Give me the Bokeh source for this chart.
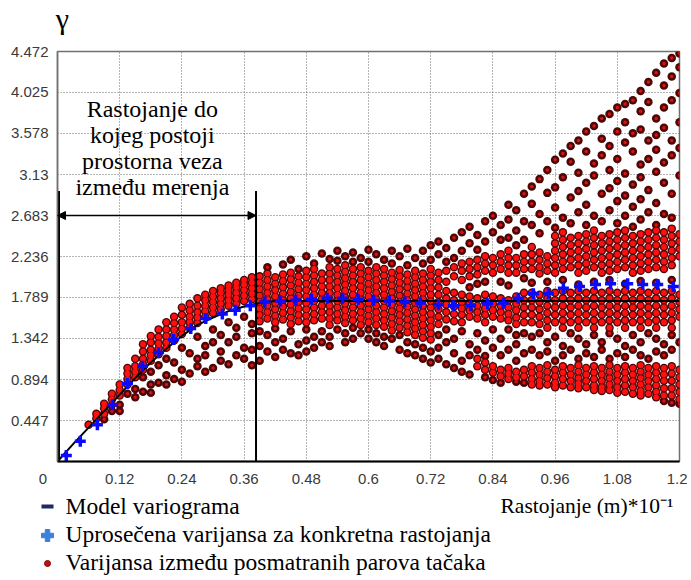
from bokeh.plotting import figure
from bokeh.embed import file_html
from bokeh.resources import INLINE
from bokeh.layouts import column
from bokeh.models import Range1d, FixedTicker, Label, Arrow, NormalHead

# ---------------- axis ticks ----------------
x_ticks = [0.12, 0.24, 0.36, 0.48, 0.6, 0.72, 0.84, 0.96, 1.08, 1.2]
x_tick_labels = ["0.12", "0.24", "0.36", "0.48", "0.6", "0.72", "0.84", "0.96", "1.08", "1.2"]
y_ticks = [0.447, 0.894, 1.342, 1.789, 2.236, 2.683, 3.13, 3.578, 4.025, 4.472]
y_tick_labels = ["0.447", "0.894", "1.342", "1.789", "2.236", "2.683", "3.13", "3.578", "4.025", "4.472"]
origin_label = "0"

# ---------------- variogram model ----------------
model_x = [0, 0.03, 0.06, 0.09, 0.12, 0.15, 0.18, 0.21, 0.24, 0.27, 0.30, 0.33, 0.36, 0.39, 0.42, 1.2]
model_y = [0, 0.19, 0.37, 0.55, 0.73, 0.91, 1.08, 1.23, 1.37, 1.49, 1.57, 1.64, 1.69, 1.73, 1.75, 1.75]

# ---------------- averaged variance (blue crosses) ----------------
avg_x = [0.017, 0.044, 0.077, 0.106, 0.135, 0.164, 0.195, 0.224, 0.257, 0.286,
         0.318, 0.343, 0.372, 0.40, 0.43, 0.46, 0.49, 0.52, 0.55, 0.58,
         0.61, 0.64, 0.67, 0.70, 0.735, 0.764, 0.797, 0.830, 0.860, 0.889,
         0.918, 0.947, 0.976, 1.007, 1.038, 1.067, 1.100, 1.129, 1.158, 1.188]
avg_y = [0.065, 0.22, 0.40, 0.62, 0.85, 1.04, 1.19, 1.33, 1.45, 1.56,
         1.61, 1.65, 1.70, 1.74, 1.75, 1.76, 1.77, 1.78, 1.78, 1.77,
         1.76, 1.75, 1.74, 1.73, 1.71, 1.70, 1.70, 1.72, 1.73, 1.78,
         1.83, 1.83, 1.89, 1.91, 1.93, 1.94, 1.94, 1.93, 1.93, 1.91]

# ---------------- variogram cloud, read column by column ----------------
cloud_x_a = [0.060, 0.075, 0.090, 0.105, 0.120, 0.135, 0.150, 0.165, 0.180, 0.195, 0.210,
             0.225, 0.240, 0.255, 0.270, 0.285, 0.300, 0.315, 0.330, 0.345, 0.360, 0.375]
cloud_dense_a = [
    [0.40], [0.47, 0.52], [0.52, 0.58, 0.63], [0.62, 0.68, 0.74], [0.72, 0.78, 0.84],
    [0.84, 0.90, 0.96, 1.02], [0.92, 0.98, 1.04, 1.12], [1.00, 1.06, 1.12, 1.20, 1.28],
    [1.10, 1.16, 1.22, 1.30, 1.37], [1.17, 1.23, 1.29, 1.36, 1.44], [1.24, 1.30, 1.37, 1.44, 1.52],
    [1.32, 1.38, 1.44, 1.51, 1.58], [1.39, 1.45, 1.52, 1.60, 1.68], [1.46, 1.52, 1.58, 1.65, 1.72],
    [1.51, 1.57, 1.63, 1.70, 1.78], [1.58, 1.64, 1.70, 1.76, 1.82], [1.62, 1.68, 1.74, 1.80, 1.86],
    [1.66, 1.72, 1.78, 1.84, 1.89], [1.70, 1.76, 1.82, 1.87, 1.92], [1.72, 1.78, 1.84, 1.90, 1.95],
    [1.75, 1.81, 1.87, 1.93, 1.98], [1.77, 1.83, 1.89, 1.95, 2.01]]
cloud_sparse_a = [
    [], [], [0.46], [0.55], [0.62, 0.55],
    [0.74], [0.79, 0.70], [0.92, 0.76],
    [0.98, 0.84, 0.75], [1.05, 0.86], [1.12, 0.94, 0.84],
    [1.08, 0.90], [1.24, 1.00, 0.87], [1.18, 0.96],
    [1.36, 1.12, 1.04], [1.26, 1.16, 0.98], [1.44, 1.30, 1.02],
    [1.38, 1.20, 1.10], [1.52, 1.30, 1.06], [1.46, 1.36, 1.16],
    [1.58, 1.24, 1.12], [1.50, 1.40, 1.22, 1.05]]

cloud_x_b = [0.390, 0.405, 0.420, 0.435, 0.450, 0.465, 0.480, 0.495, 0.510, 0.525, 0.540, 0.555,
             0.570, 0.585, 0.600, 0.615, 0.630, 0.645, 0.660, 0.675, 0.690, 0.705, 0.720]
cloud_dense_b = [
    [2.02, 1.95, 1.88, 1.81, 1.74, 1.67, 1.60, 1.53],
    [2.05, 1.98, 1.91, 1.84, 1.77, 1.70, 1.63, 1.56],
    [2.01, 1.94, 1.87, 1.80, 1.73, 1.66, 1.59, 1.52],
    [2.04, 1.97, 1.90, 1.83, 1.76, 1.69, 1.62, 1.55],
    [2.06, 1.99, 1.92, 1.85, 1.78, 1.71, 1.64, 1.57, 1.50],
    [2.02, 1.95, 1.88, 1.81, 1.74, 1.67, 1.60, 1.53],
    [2.08, 2.01, 1.94, 1.87, 1.80, 1.73, 1.66, 1.59, 1.52],
    [2.10, 2.03, 1.96, 1.89, 1.82, 1.75, 1.68, 1.61, 1.54],
    [2.05, 1.98, 1.91, 1.84, 1.77, 1.70, 1.63, 1.56],
    [2.12, 2.05, 1.98, 1.91, 1.84, 1.77, 1.70, 1.63, 1.56, 1.49],
    [2.10, 2.03, 1.96, 1.89, 1.82, 1.75, 1.68, 1.61, 1.54],
    [2.14, 2.07, 2.00, 1.93, 1.86, 1.79, 1.72, 1.65, 1.58, 1.51],
    [2.10, 2.03, 1.96, 1.89, 1.82, 1.75, 1.68, 1.61, 1.54],
    [2.12, 2.05, 1.98, 1.91, 1.84, 1.77, 1.70, 1.63, 1.56, 1.49],
    [2.08, 2.01, 1.94, 1.87, 1.80, 1.73, 1.66, 1.59, 1.52],
    [2.12, 2.05, 1.98, 1.91, 1.84, 1.77, 1.70, 1.63, 1.56, 1.49],
    [2.10, 2.03, 1.96, 1.89, 1.82, 1.75, 1.68, 1.61, 1.54, 1.47],
    [2.06, 1.99, 1.92, 1.85, 1.78, 1.71, 1.64, 1.57, 1.50, 1.43],
    [2.09, 2.02, 1.95, 1.88, 1.81, 1.74, 1.67, 1.60, 1.53, 1.46],
    [2.04, 1.97, 1.90, 1.83, 1.76, 1.69, 1.62, 1.55, 1.48, 1.41],
    [2.08, 2.01, 1.94, 1.87, 1.80, 1.73, 1.66, 1.59, 1.52, 1.45, 1.38],
    [2.05, 1.98, 1.91, 1.84, 1.77, 1.70, 1.63, 1.56, 1.49, 1.42, 1.35],
    [2.10, 2.03, 1.96, 1.89, 1.82, 1.75, 1.68, 1.61, 1.54, 1.47, 1.40, 1.33]]
cloud_sparse_b = [
    [1.42, 1.26, 1.10], [2.12, 1.38, 1.20], [1.45, 1.30, 1.14], [2.15, 1.34, 1.22],
    [2.20, 1.42, 1.18], [2.10, 1.28, 1.16], [2.24, 1.44, 1.32, 1.20], [2.16, 1.36, 1.24],
    [2.27, 1.42, 1.30], [2.21, 1.36, 1.26], [2.30, 2.19, 1.44], [2.24, 1.40, 1.30],
    [2.28, 2.18, 1.46, 1.34], [2.22, 1.40], [2.31, 2.18, 1.44, 1.34], [2.26, 1.40, 1.30],
    [2.20, 1.36, 1.26], [2.30, 2.16, 1.34], [2.24, 1.38, 1.22], [2.32, 2.14, 1.30, 1.18],
    [2.22, 1.28, 1.16], [2.30, 2.16, 1.24, 1.12], [2.36, 2.20, 1.20, 1.08]]

cloud_x_c = [0.735, 0.750, 0.765, 0.780, 0.795, 0.810, 0.825, 0.840, 0.855, 0.870, 0.885, 0.900]
cloud_dense_c = [
    [2.06, 1.98, 1.90, 1.82, 1.74, 1.66, 1.58, 1.50],
    [2.08, 1.96, 1.86, 1.78, 1.71, 1.63, 1.55],
    [2.12, 2.02, 1.84, 1.76, 1.69, 1.61, 1.53],
    [2.16, 2.08, 1.98, 1.82, 1.74, 1.67, 1.60, 1.52],
    [2.18, 2.10, 2.02, 1.80, 1.72, 1.65, 1.58],
    [2.20, 2.12, 2.04, 1.78, 1.70, 1.63, 1.56, 1.12, 1.04],
    [2.24, 2.16, 2.08, 1.82, 1.74, 1.67, 1.60, 1.52, 1.08, 1.00],
    [2.22, 2.14, 2.06, 1.80, 1.72, 1.65, 1.58, 1.04, 0.97],
    [2.26, 2.18, 2.10, 1.78, 1.70, 1.63, 1.56, 1.00, 0.93],
    [2.30, 2.22, 2.14, 2.06, 1.76, 1.68, 1.61, 1.54, 1.02, 0.96, 0.90],
    [2.22, 2.14, 2.06, 1.80, 1.72, 1.65, 1.57, 1.50, 0.98, 0.92],
    [2.26, 2.18, 2.10, 1.84, 1.76, 1.68, 1.60, 1.52, 1.00, 0.93]]
cloud_sparse_c = [
    [2.40, 2.26, 1.38, 1.24, 1.12], [2.33, 2.18, 1.44, 1.30, 1.06],
    [2.44, 2.22, 1.34, 1.18, 1.02], [2.50, 2.30, 1.42, 1.10, 0.98],
    [2.56, 2.38, 1.90, 1.28, 1.16, 0.95], [2.47, 2.31, 1.94, 1.40, 1.22],
    [2.62, 2.40, 1.96, 1.32, 1.15, 0.92], [2.68, 2.50, 1.44, 1.24, 0.89],
    [2.58, 2.42, 1.96, 1.34, 1.16, 0.86], [2.80, 2.64, 2.44, 1.92, 1.44, 1.22],
    [2.74, 2.52, 2.36, 1.38, 1.28, 1.10, 0.87], [2.92, 2.62, 2.42, 2.00, 1.40, 1.18, 0.86]]

cloud_x_d = [0.915, 0.930, 0.945, 0.960, 0.975, 0.990, 1.005, 1.020, 1.035, 1.050,
             1.065, 1.080, 1.095, 1.110, 1.125, 1.140, 1.155, 1.170, 1.185, 1.200]
cloud_dense_d = [
    [2.34, 2.26, 2.18, 2.10, 1.84, 1.76, 1.68, 1.60, 1.52, 1.04, 0.97, 0.90, 0.84],
    [2.28, 2.20, 2.12, 2.05, 1.82, 1.74, 1.66, 1.58, 1.50, 1.02, 0.95, 0.88, 0.83],
    [2.24, 2.16, 2.08, 1.86, 1.78, 1.70, 1.62, 1.54, 1.46, 1.05, 0.98, 0.91, 0.84],
    [2.46, 2.38, 2.30, 2.22, 2.14, 2.06, 1.84, 1.76, 1.68, 1.60, 1.52, 1.00, 0.93, 0.86, 0.81],
    [2.50, 2.42, 2.34, 2.26, 2.18, 2.10, 1.86, 1.78, 1.70, 1.62, 1.54, 1.46, 1.04, 0.97, 0.90, 0.83],
    [2.44, 2.36, 2.28, 2.20, 2.12, 1.84, 1.76, 1.68, 1.60, 1.52, 1.02, 0.95, 0.88, 0.81],
    [2.46, 2.38, 2.30, 2.22, 2.14, 2.06, 1.86, 1.78, 1.70, 1.62, 1.54, 1.46, 1.05, 0.98, 0.91, 0.85, 0.80],
    [2.48, 2.40, 2.32, 2.24, 2.16, 2.08, 1.84, 1.76, 1.68, 1.60, 1.52, 1.02, 0.95, 0.88, 0.81],
    [2.52, 2.44, 2.36, 2.28, 2.20, 2.12, 1.86, 1.78, 1.70, 1.62, 1.54, 1.46, 1.04, 0.97, 0.90, 0.83, 0.78],
    [2.46, 2.38, 2.30, 2.22, 2.14, 2.06, 1.84, 1.76, 1.68, 1.60, 1.52, 1.02, 0.95, 0.88, 0.81, 0.77],
    [2.48, 2.40, 2.32, 2.24, 2.16, 2.08, 1.86, 1.78, 1.70, 1.62, 1.54, 1.46, 1.05, 0.98, 0.91, 0.84, 0.78],
    [2.50, 2.42, 2.34, 2.26, 2.18, 2.10, 1.84, 1.76, 1.68, 1.60, 1.52, 1.02, 0.95, 0.88, 0.81, 0.75],
    [2.52, 2.44, 2.36, 2.28, 2.20, 2.12, 1.86, 1.78, 1.70, 1.62, 1.54, 1.46, 1.04, 0.97, 0.90, 0.83, 0.76],
    [2.46, 2.38, 2.30, 2.22, 2.14, 2.06, 1.84, 1.76, 1.68, 1.60, 1.52, 1.02, 0.95, 0.88, 0.81, 0.74],
    [2.48, 2.40, 2.32, 2.24, 2.16, 2.08, 1.86, 1.78, 1.70, 1.62, 1.54, 1.46, 1.05, 0.98, 0.91, 0.84, 0.77, 0.72],
    [2.50, 2.42, 2.34, 2.26, 2.18, 2.10, 1.84, 1.76, 1.68, 1.60, 1.52, 1.02, 0.95, 0.88, 0.81, 0.74],
    [2.52, 2.44, 2.36, 2.28, 2.20, 2.12, 1.86, 1.78, 1.70, 1.62, 1.54, 1.46, 1.04, 0.97, 0.90, 0.83, 0.76, 0.70],
    [2.50, 2.42, 2.34, 2.26, 2.18, 2.10, 1.84, 1.76, 1.68, 1.60, 1.52, 1.02, 0.95, 0.88, 0.80, 0.72],
    [2.54, 2.46, 2.38, 2.30, 2.22, 2.14, 1.86, 1.78, 1.70, 1.62, 1.54, 1.46, 1.04, 0.96, 0.88, 0.80, 0.72],
    [2.48, 2.40, 2.32, 2.24, 1.82, 1.74, 1.66, 1.58, 1.00, 0.92, 0.84, 0.76, 0.68]]
cloud_sparse_d = [
    [3.00, 2.81, 2.58, 1.95, 1.36, 1.22],
    [3.08, 2.70, 2.49, 1.40, 1.16],
    [3.18, 2.93, 2.62, 1.96, 1.30, 1.20],
    [3.29, 2.99, 2.77, 2.55, 1.36, 1.10],
    [3.36, 3.10, 2.66, 1.98, 1.26, 1.16],
    [3.44, 3.27, 2.88, 2.60, 1.40, 1.22],
    [3.50, 3.15, 2.95, 2.72, 1.93, 1.34, 1.12],
    [3.60, 3.38, 3.04, 2.80, 2.58, 1.28, 1.18],
    [3.66, 3.25, 3.12, 2.68, 1.96, 1.38, 1.14],
    [3.74, 3.52, 3.34, 2.92, 2.62, 1.30, 1.22],
    [3.79, 3.44, 3.18, 2.98, 2.74, 1.98, 1.40, 1.12],
    [3.86, 3.60, 3.30, 3.06, 2.84, 2.60, 1.34, 1.18],
    [3.90, 3.70, 3.48, 3.14, 2.90, 2.68, 1.94, 1.26, 1.14],
    [3.94, 3.58, 3.38, 3.02, 2.78, 2.56, 1.38, 1.22],
    [4.04, 3.82, 3.62, 3.24, 3.10, 2.86, 2.64, 1.97, 1.30, 1.16],
    [4.14, 3.92, 3.50, 3.30, 2.96, 2.72, 1.40, 1.12],
    [4.24, 3.74, 3.56, 3.40, 3.16, 2.82, 2.58, 1.95, 1.34, 1.20],
    [4.34, 4.10, 3.86, 3.64, 3.26, 3.04, 2.70, 1.28, 1.16, 0.66],
    [4.40, 4.20, 3.94, 3.50, 3.34, 2.92, 2.66, 1.98, 1.38, 1.22, 0.64],
    [4.45, 4.30, 4.02, 3.70, 3.42, 3.12, 1.30, 0.63]]

# ---------------- annotation values and texts ----------------
range_x = 0.383      # distance of spatial correlation
bracket_top = 2.95
arrow_y = 2.683
note_lines = ["Rastojanje do", "kojeg postoji", "prostorna veza", "između merenja"]
legend_texts = ["Model variograma", "Uprosečena varijansa za konkretna rastojanja",
                "Varijansa između posmatranih parova tačaka"]
x_title = "Rastojanje (m)*10\u207b\u00b9"
y_title = "γ"


def flatten(xs, cols):
    fx, fy = [], []
    for x, ys in zip(xs, cols):
        for y in ys:
            fx.append(x)
            fy.append(y)
    return fx, fy


dense_x, dense_y, sparse_x, sparse_y = [], [], [], []
for xs, dc, sc in [(cloud_x_a, cloud_dense_a, cloud_sparse_a),
                   (cloud_x_b, cloud_dense_b, cloud_sparse_b),
                   (cloud_x_c, cloud_dense_c, cloud_sparse_c),
                   (cloud_x_d, cloud_dense_d, cloud_sparse_d)]:
    a, b = flatten(xs, dc)
    dense_x += a
    dense_y += b
    a, b = flatten(xs, sc)
    sparse_x += a
    sparse_y += b

serif = "Liberation Serif"
W = 687


def strip(h):
    f = figure(width=W, height=h, x_range=Range1d(0, W), y_range=Range1d(0, h),
               output_backend="svg", toolbar_location=None,
               x_axis_location=None, y_axis_location=None,
               min_border_left=0, min_border_right=0, min_border_top=0, min_border_bottom=0)
    f.frame_align = False
    f.outline_line_color = None
    f.grid.visible = False
    f.background_fill_color = "white"
    f.border_fill_color = "white"
    return f


# ---------------- top strip with the gamma symbol ----------------
TH = 36
t = strip(TH)
t.add_layout(Label(x=62, y=18, text=y_title, text_font=serif, text_font_size="30px",
                   text_align="center", text_baseline="alphabetic", text_color="black"))

# ---------------- main figure ----------------
p = figure(width=W, height=455, x_range=Range1d(0, 1.2), y_range=Range1d(0, 4.472),
           output_backend="svg", toolbar_location=None,
           min_border_left=57, min_border_right=8, min_border_top=15, min_border_bottom=30)
p.frame_align = False
p.background_fill_color = "white"
p.border_fill_color = "white"
p.outline_line_color = "#707070"
p.outline_line_width = 1.5

all_xticks = [0.0] + x_ticks
p.xaxis.ticker = FixedTicker(ticks=all_xticks)
p.yaxis.ticker = FixedTicker(ticks=y_ticks)
x_over = {tk: s for tk, s in zip(x_ticks, x_tick_labels)}
x_over[0.0] = origin_label + "\u00a0" * 7
p.xaxis.major_label_overrides = x_over
p.yaxis.major_label_overrides = {tk: s for tk, s in zip(y_ticks, y_tick_labels)}
for ax in (p.xaxis, p.yaxis):
    ax.major_tick_line_color = None
    ax.minor_tick_line_color = None
    ax.major_tick_out = 0
    ax.major_tick_in = 0
    ax.minor_tick_out = 0
    ax.minor_tick_in = 0
    ax.major_label_text_font = "Liberation Sans"
    ax.major_label_text_font_size = "15px"
    ax.major_label_text_color = "#3a3a3a"
p.xaxis.axis_line_color = "black"
p.xaxis.axis_line_width = 2
p.yaxis.axis_line_color = "#707070"
p.yaxis.axis_line_width = 1.5
p.xaxis.major_label_standoff = 8
p.yaxis.major_label_standoff = 9

p.grid.grid_line_color = "#6a6a6a"
p.grid.grid_line_dash = "1 2"
p.grid.grid_line_width = 1

# cloud: dark rims first, then red fills
p.scatter(dense_x + sparse_x, dense_y + sparse_y, size=8.5, marker="circle",
          fill_color="#4a0808", line_color=None)
p.scatter(dense_x, dense_y, size=5.8, marker="circle", fill_color="#ff1010", line_color=None)
p.scatter(sparse_x, sparse_y, size=3.5, marker="circle", fill_color="#e01010", line_color=None)

# model line and averaged variance
p.line(model_x, model_y, line_color="black", line_width=2)
p.scatter(avg_x, avg_y, marker="cross", size=11, line_color="#0a0aff", line_width=3.5)

# bracket showing the range
p.segment(x0=[0, range_x], y0=[0, 0], x1=[0, range_x], y1=[bracket_top, bracket_top],
          line_color="black", line_width=[5, 2])
p.add_layout(Arrow(start=NormalHead(size=8, fill_color="black", line_color="black"),
                   end=NormalHead(size=8, fill_color="black", line_color="black"),
                   x_start=0, y_start=arrow_y, x_end=range_x, y_end=arrow_y,
                   line_color="black", line_width=1.5))

note_y = [3.849, 3.566, 3.282, 2.999]
for tx, yy in zip(note_lines, note_y):
    p.add_layout(Label(x=0.183, y=yy, text=tx, text_font=serif, text_font_size="24px",
                       text_align="center", text_baseline="alphabetic", text_color="black"))

# ---------------- legend strip below (pixel coordinates) ----------------
QH = 86
q = strip(QH)
leg_base = [72, 44, 16]
for tx, yy in zip(legend_texts, leg_base):
    q.add_layout(Label(x=65, y=yy, text=tx, text_font=serif, text_font_size="23.5px",
                       text_align="left", text_baseline="alphabetic", text_color="black"))
q.add_layout(Label(x=500, y=leg_base[0], text=x_title, text_font=serif, text_font_size="21.5px",
                   text_align="left", text_baseline="alphabetic", text_color="black"))
q.rect(x=[47], y=[71], width=12, height=4, fill_color="#1d2b5e", line_color=None)
q.scatter(x=[47], y=[42], marker="plus", size=12, fill_color="#3d7fd9", line_color="#3d7fd9")
q.scatter(x=[47], y=[14], marker="circle", size=6, fill_color="#c01010", line_color="#7a0a0a")

layout = column(t, p, q, spacing=0)
open("out.html", "w").write(file_html(layout, INLINE))
